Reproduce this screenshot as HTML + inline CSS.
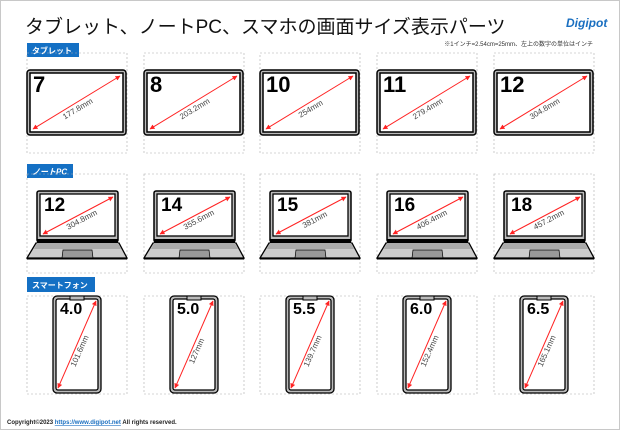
<!DOCTYPE html>
<html><head><meta charset="utf-8"><style>
html,body{margin:0;padding:0;background:#fff}
svg{display:block}
text{font-family:"Liberation Sans","Noto Sans CJK JP",sans-serif}
</style></head><body>
<svg width="620" height="430" viewBox="0 0 620 430" xmlns="http://www.w3.org/2000/svg">
<defs>
<marker id="ah" viewBox="0 0 10 10" refX="9" refY="5" markerWidth="5" markerHeight="5" orient="auto-start-reverse"><path d="M0,0L10,5L0,10z" fill="#f22"/></marker>
<g id="tab">
<rect x="0" y="70" width="99" height="65" rx="3" fill="#bbb" stroke="#000" stroke-width="1.5"/>
<rect x="3" y="73" width="93" height="59" fill="#fff" stroke="#000" stroke-width="1.5"/>
<line x1="6" y1="129" x2="93" y2="76" stroke="#f22" stroke-width="1" marker-start="url(#ah)" marker-end="url(#ah)"/>
</g>
<g id="lap">
<rect x="10" y="191" width="81" height="51" rx="2" fill="#bbb" stroke="#000" stroke-width="1.5"/>
<rect x="13" y="194" width="75" height="42" fill="#fff" stroke="#000" stroke-width="1.3"/>
<rect x="10" y="239" width="81" height="4" fill="#000"/>
<polygon points="9,243 92,243 100,258 0,258" fill="#ccc" stroke="#000" stroke-width="1.3"/>
<polygon points="10,243 91,243 94,249 7,249" fill="#aaa"/>
<polygon points="36,250 65,250 66,258 35,258" fill="#999" stroke="#000" stroke-width="0.7"/>
<line x1="0" y1="258.5" x2="100" y2="258.5" stroke="#000" stroke-width="2"/>
<line x1="16" y1="234" x2="86" y2="197" stroke="#f22" stroke-width="1" marker-start="url(#ah)" marker-end="url(#ah)"/>
</g>
<g id="ph">
<rect x="26" y="296" width="48" height="97" rx="4" fill="#bbb" stroke="#000" stroke-width="1.3"/>
<rect x="29" y="299" width="42" height="91" rx="2" fill="#fff" stroke="#000" stroke-width="1.3"/>
<rect x="43" y="296" width="14" height="4" fill="#bbb" stroke="#000" stroke-width="1"/>
<line x1="31" y1="388" x2="69" y2="301" stroke="#f22" stroke-width="1" marker-start="url(#ah)" marker-end="url(#ah)"/>
</g>
</defs>
<rect x="0.5" y="0.5" width="619" height="429" fill="#fff" stroke="#c8c8c8"/>
<text x="25" y="33" font-size="19" fill="#111">タブレット、ノートPC、スマホの画面サイズ表示パーツ</text>
<text x="566" y="27" font-size="12" font-weight="bold" fill="#1a6fc0" font-style="italic">Digipot</text>
<text x="593" y="46" font-size="6" fill="#333" text-anchor="end">※1インチ=2.54cm=25mm、左上の数字の単位はインチ</text>

<rect x="27" y="43" width="52" height="14" fill="#1470c4"/>
<text x="32" y="53.5" font-size="8" font-weight="bold" fill="#fff">タブレット</text>
<rect x="27" y="164" width="46" height="14" fill="#1470c4"/>
<text x="32" y="174.5" font-size="8" font-weight="bold" fill="#fff" font-style="italic">ノートPC</text>
<rect x="27" y="277" width="68" height="15" fill="#1470c4"/>
<text x="32" y="288" font-size="8" font-weight="bold" fill="#fff">スマートフォン</text>

<g fill="none" stroke="#aaa" stroke-width="0.6" stroke-dasharray="2,2">
<rect x="27" y="53" width="100" height="100"/><rect x="144" y="53" width="100" height="100"/><rect x="260" y="53" width="100" height="100"/><rect x="377" y="53" width="100" height="100"/><rect x="494" y="53" width="100" height="100"/>
<rect x="27" y="174" width="100" height="99"/><rect x="144" y="174" width="100" height="99"/><rect x="260" y="174" width="100" height="99"/><rect x="377" y="174" width="100" height="99"/><rect x="494" y="174" width="100" height="99"/>
<rect x="27" y="296" width="100" height="98"/><rect x="144" y="296" width="100" height="98"/><rect x="260" y="296" width="100" height="98"/><rect x="377" y="296" width="100" height="98"/><rect x="494" y="296" width="100" height="98"/>
</g>

<g transform="translate(27,0)"><use href="#tab"/><text x="6" y="92" font-size="22" font-weight="bold">7</text><text transform="translate(52,111) rotate(-31)" font-size="8" fill="#444" text-anchor="middle">177.8mm</text></g>
<g transform="translate(144,0)"><use href="#tab"/><text x="6" y="92" font-size="22" font-weight="bold">8</text><text transform="translate(52,111) rotate(-31)" font-size="8" fill="#444" text-anchor="middle">203.2mm</text></g>
<g transform="translate(260,0)"><use href="#tab"/><text x="6" y="92" font-size="22" font-weight="bold">10</text><text transform="translate(52,111) rotate(-31)" font-size="8" fill="#444" text-anchor="middle">254mm</text></g>
<g transform="translate(377,0)"><use href="#tab"/><text x="6" y="92" font-size="22" font-weight="bold">11</text><text transform="translate(52,111) rotate(-31)" font-size="8" fill="#444" text-anchor="middle">279.4mm</text></g>
<g transform="translate(494,0)"><use href="#tab"/><text x="6" y="92" font-size="22" font-weight="bold">12</text><text transform="translate(52,111) rotate(-31)" font-size="8" fill="#444" text-anchor="middle">304.8mm</text></g>

<g transform="translate(27,0)"><use href="#lap"/><text x="17" y="211" font-size="19" font-weight="bold">12</text><text transform="translate(56,222) rotate(-28)" font-size="8" fill="#444" text-anchor="middle">304.8mm</text></g>
<g transform="translate(144,0)"><use href="#lap"/><text x="17" y="211" font-size="19" font-weight="bold">14</text><text transform="translate(56,222) rotate(-28)" font-size="8" fill="#444" text-anchor="middle">355.6mm</text></g>
<g transform="translate(260,0)"><use href="#lap"/><text x="17" y="211" font-size="19" font-weight="bold">15</text><text transform="translate(56,222) rotate(-28)" font-size="8" fill="#444" text-anchor="middle">381mm</text></g>
<g transform="translate(377,0)"><use href="#lap"/><text x="17" y="211" font-size="19" font-weight="bold">16</text><text transform="translate(56,222) rotate(-28)" font-size="8" fill="#444" text-anchor="middle">406.4mm</text></g>
<g transform="translate(494,0)"><use href="#lap"/><text x="17" y="211" font-size="19" font-weight="bold">18</text><text transform="translate(56,222) rotate(-28)" font-size="8" fill="#444" text-anchor="middle">457.2mm</text></g>

<g transform="translate(27,0)"><use href="#ph"/><text x="33" y="314" font-size="16" font-weight="bold">4.0</text><text transform="translate(55,352) rotate(-66)" font-size="8" fill="#444" text-anchor="middle">101.6mm</text></g>
<g transform="translate(144,0)"><use href="#ph"/><text x="33" y="314" font-size="16" font-weight="bold">5.0</text><text transform="translate(55,352) rotate(-66)" font-size="8" fill="#444" text-anchor="middle">127mm</text></g>
<g transform="translate(260,0)"><use href="#ph"/><text x="33" y="314" font-size="16" font-weight="bold">5.5</text><text transform="translate(55,352) rotate(-66)" font-size="8" fill="#444" text-anchor="middle">139.7mm</text></g>
<g transform="translate(377,0)"><use href="#ph"/><text x="33" y="314" font-size="16" font-weight="bold">6.0</text><text transform="translate(55,352) rotate(-66)" font-size="8" fill="#444" text-anchor="middle">152.4mm</text></g>
<g transform="translate(494,0)"><use href="#ph"/><text x="33" y="314" font-size="16" font-weight="bold">6.5</text><text transform="translate(55,352) rotate(-66)" font-size="8" fill="#444" text-anchor="middle">165.1mm</text></g>

<text x="7" y="424" font-size="6" font-weight="bold" fill="#222">Copyright©2023 <tspan fill="#1a6fc0" text-decoration="underline">https://www.digipot.net</tspan> All rights reserved.</text>
</svg>
</body></html>
